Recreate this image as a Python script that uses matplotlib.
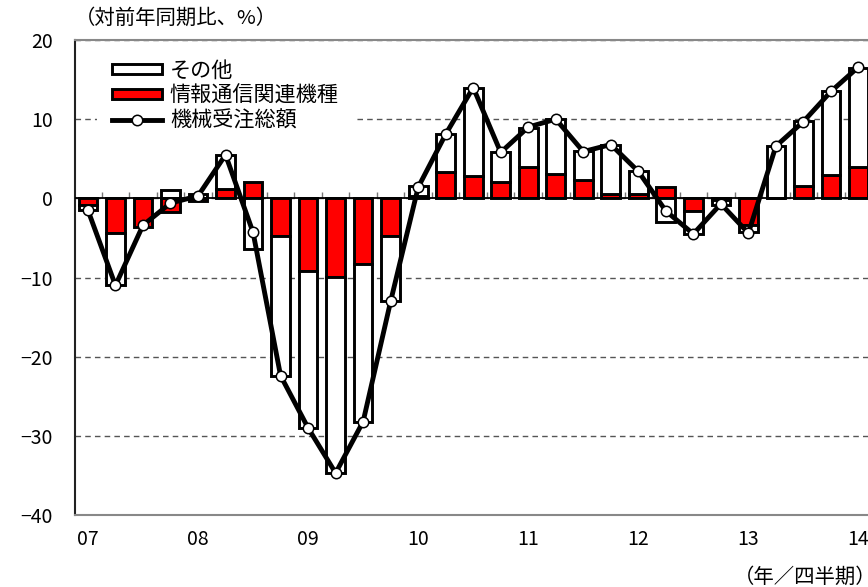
import numpy as np
import matplotlib
matplotlib.use('Agg')
import matplotlib.pyplot as plt
from matplotlib.lines import Line2D
from matplotlib.patches import Patch

plt.rcParams['font.family'] = ['Noto Sans CJK JP', 'DejaVu Sans']

# 2007Q1 - 2014Q1, 前年同期比 (%)
years = ['07', '08', '09', '10', '11', '12', '13', '14']
it_equip = [-0.9, -4.4, -3.6, -1.7, -0.3, 1.2, 2.1, -4.8,
            -9.2, -9.9, -8.3, -4.8, 0.3, 3.3, 2.8, 2.1,
            4.0, 3.1, 2.3, 0.6, 0.5, 1.4, -1.6, -0.2,
            -3.4, 0.1, 1.5, 3.0, 3.9]
others = [-0.6, -6.6, 0.0, 1.1, 0.6, 4.3, -6.4, -17.6,
          -19.8, -24.8, -20.0, -8.2, 1.2, 4.8, 11.2, 3.7,
          4.9, 6.9, 3.7, 6.2, 3.0, -3.0, -2.9, -0.6,
          -0.9, 6.5, 8.3, 10.5, 12.6]
total = [-1.5, -11.0, -3.4, -0.6, 0.3, 5.5, -4.3, -22.4,
         -29.0, -34.7, -28.2, -13.0, 1.4, 8.1, 14.0, 5.8,
         9.0, 10.0, 5.9, 6.8, 3.4, -1.6, -4.5, -0.7,
         -4.4, 6.6, 9.7, 13.5, 16.6]

it_equip = np.array(it_equip)
others = np.array(others)
x = np.arange(len(total))

# その他は同符号なら情報通信の上に積む
bottom = np.where(np.sign(others) == np.sign(it_equip), it_equip, 0)

fig = plt.figure(figsize=(8.68, 5.87), dpi=100)
ax = fig.add_axes([75/868, 72/587, 800/868, 475/587])

ax.bar(x, it_equip, width=0.68, color='red', edgecolor='black', linewidth=2.1, zorder=2)
ax.bar(x, others, bottom=bottom, width=0.68, color='white', edgecolor='black', linewidth=2.1, zorder=2)
ax.plot(x, total, color='black', linewidth=3.5, marker='o', markersize=7.5,
        markerfacecolor='white', markeredgecolor='black', markeredgewidth=1.1, zorder=4)

ax.axhline(0, color='black', linewidth=1.3, zorder=3)

ax.set_xlim(-0.47, 28.6)
ax.set_ylim(-40, 20)
ax.set_yticks(np.arange(-40, 21, 10))
ax.set_yticklabels([str(v).replace('-', '−') for v in range(-40, 21, 10)])
ax.set_xticks(np.arange(0, len(total), 4))
ax.set_xticklabels(years)
ax.tick_params(axis='y', length=0, pad=16, labelsize=14)
ax.tick_params(axis='x', length=0, pad=10, labelsize=14)

ax.yaxis.grid(True, linestyle=(0, (4, 3)), color='#555555', linewidth=1)
ax.set_axisbelow(True)

ax.spines['left'].set_color('#222222')
ax.spines['left'].set_linewidth(1.5)
ax.spines['top'].set_color('#888888')
ax.spines['top'].set_linewidth(1.5)
ax.spines['bottom'].set_color('#888888')
ax.spines['bottom'].set_linewidth(1.5)
ax.spines['right'].set_visible(False)

# 四半期の目盛り（0の線上）
sec = ax.secondary_xaxis(40/60)
sec.set_xticks(np.arange(0.5, len(total) - 1, 1))
sec.tick_params(axis='x', length=4, width=1, color='#777777', labelbottom=False, labeltop=False)
sec.spines['top'].set_visible(False)
sec.spines['bottom'].set_visible(False)

handles = [Patch(facecolor='white', edgecolor='black', linewidth=2.1),
           Patch(facecolor='red', edgecolor='black', linewidth=2.1),
           Line2D([], [], color='black', linewidth=3.5, marker='o', markersize=7.5,
                  markerfacecolor='white', markeredgecolor='black', markeredgewidth=1.1)]
labels = ['その他', '情報通信関連機種', '機械受注総額']
leg = ax.legend(handles, labels, loc='upper left', bbox_to_anchor=(0.0275, 0.99),
                fontsize=15.2, frameon=True, facecolor='white', edgecolor='none', framealpha=1,
                handlelength=2.4, handleheight=0.4, handletextpad=0.35,
                labelspacing=0.14, borderpad=0.7, borderaxespad=0, fancybox=False)
leg.set_zorder(2.4)

fig.text(75/868, 1 - 18/587, '（対前年同期比、%）', fontsize=14.7, ha='left', va='center')
fig.text(734/868, 1 - 577/587, '（年／四半期）', fontsize=14.7, ha='left', va='center')

fig.savefig('out.png', dpi=100)
